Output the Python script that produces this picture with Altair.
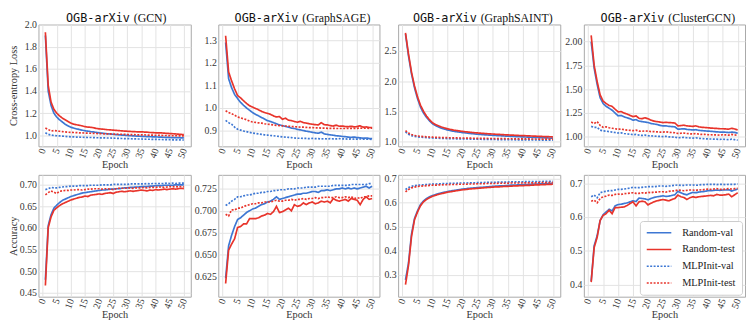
import altair as alt
import pandas as pd

epochs = list(range(1, 51))
series_names = ["Random-val", "Random-test", "MLPInit-val", "MLPInit-test"]
series_colors = ["#3d77d3", "#e8342b", "#3d77d3", "#e8342b"]
series_dashes = [[1, 0], [1, 0], [2, 1.5], [2, 1.5]]
models = ["GCN", "GraphSAGE", "GraphSAINT", "ClusterGCN"]
x_ticks = [0, 5, 10, 15, 20, 25, 30, 35, 40, 45, 50]

# ---------------- Cross-entropy loss ----------------
gcn_loss_rv = [1.90,1.40,1.27,1.20,1.165,1.14,1.12,1.10,1.085,1.072,
    1.065,1.058,1.052,1.046,1.041,1.037,1.033,1.030,1.026,1.022,
    1.019,1.016,1.013,1.011,1.009,1.006,1.004,1.002,1.000,0.998,
    0.996,0.995,0.993,0.992,0.990,0.989,0.988,0.987,0.986,0.985,
    0.984,0.983,0.982,0.981,0.980,0.979,0.978,0.978,0.977,0.976]
gcn_loss_rt = [1.93,1.45,1.30,1.235,1.20,1.175,1.155,1.14,1.125,1.11,
    1.10,1.095,1.09,1.085,1.078,1.074,1.072,1.068,1.062,1.058,
    1.056,1.053,1.050,1.049,1.046,1.044,1.042,1.040,1.038,1.036,
    1.035,1.033,1.032,1.030,1.031,1.029,1.028,1.025,1.024,1.022,
    1.021,1.022,1.019,1.017,1.016,1.014,1.012,1.010,1.008,1.006]
gcn_loss_mv = [1.022,1.008,1.002,0.998,0.996,0.994,0.992,0.990,0.988,0.986,
    0.985,0.984,0.983,0.982,0.981,0.980,0.980,0.979,0.978,0.977,
    0.977,0.976,0.975,0.975,0.974,0.973,0.972,0.971,0.970,0.969,
    0.969,0.968,0.967,0.966,0.966,0.965,0.964,0.964,0.963,0.963,
    0.962,0.962,0.961,0.960,0.960,0.959,0.959,0.958,0.958,0.957]
gcn_loss_mt = [1.065,1.052,1.038,1.042,1.040,1.036,1.033,1.030,1.028,1.026,
    1.025,1.024,1.022,1.021,1.020,1.019,1.018,1.017,1.016,1.015,
    1.014,1.013,1.013,1.012,1.011,1.010,1.009,1.009,1.008,1.007,
    1.006,1.006,1.005,1.004,1.004,1.003,1.002,1.002,1.001,1.000,
    1.000,0.999,0.998,0.998,0.997,0.996,0.996,0.995,0.995,0.994]

sage_loss_rv = [1.29,1.13,1.09,1.06,1.042,1.025,1.012,1.000,0.990,0.980,
    0.972,0.965,0.958,0.951,0.944,0.940,0.935,0.930,0.925,0.922,
    0.918,0.915,0.911,0.909,0.905,0.903,0.900,0.897,0.895,0.892,
    0.890,0.888,0.893,0.885,0.883,0.881,0.879,0.877,0.876,0.874,
    0.873,0.871,0.870,0.871,0.869,0.868,0.866,0.867,0.865,0.864]
sage_loss_rt = [1.32,1.16,1.12,1.085,1.055,1.045,1.032,1.02,1.01,1.004,
    0.998,0.992,0.985,0.980,0.976,0.972,0.965,0.960,0.962,0.950,
    0.955,0.946,0.944,0.940,0.937,0.941,0.935,0.933,0.930,0.928,
    0.926,0.925,0.935,0.926,0.925,0.922,0.920,0.924,0.919,0.920,
    0.918,0.917,0.919,0.916,0.918,0.921,0.915,0.916,0.914,0.913]
sage_loss_mv = [0.945,0.935,0.928,0.915,0.906,0.902,0.898,0.895,0.892,0.889,
    0.887,0.885,0.883,0.881,0.880,0.878,0.877,0.875,0.874,0.872,
    0.871,0.870,0.869,0.867,0.866,0.866,0.865,0.865,0.864,0.865,
    0.864,0.864,0.863,0.864,0.863,0.864,0.863,0.863,0.864,0.863,
    0.863,0.862,0.863,0.862,0.862,0.863,0.862,0.862,0.862,0.861]
sage_loss_mt = [0.988,0.980,0.975,0.968,0.960,0.956,0.952,0.948,0.942,0.938,
    0.936,0.934,0.933,0.930,0.928,0.927,0.925,0.923,0.922,0.921,
    0.920,0.919,0.918,0.917,0.916,0.915,0.915,0.914,0.913,0.913,
    0.912,0.912,0.911,0.911,0.910,0.910,0.910,0.909,0.909,0.909,
    0.909,0.910,0.910,0.909,0.910,0.911,0.910,0.911,0.910,0.911]

saint_loss_rv = [2.78,2.42,2.12,1.89,1.71,1.57,1.47,1.40,1.34,1.295,
    1.265,1.24,1.22,1.205,1.19,1.18,1.17,1.162,1.155,1.148,
    1.142,1.136,1.131,1.126,1.121,1.117,1.113,1.109,1.106,1.103,
    1.100,1.097,1.094,1.091,1.089,1.086,1.084,1.081,1.079,1.077,
    1.075,1.072,1.070,1.068,1.066,1.064,1.062,1.060,1.058,1.056]
saint_loss_rt = [2.80,2.45,2.15,1.92,1.74,1.60,1.50,1.42,1.36,1.31,
    1.28,1.26,1.24,1.225,1.21,1.20,1.19,1.182,1.175,1.168,
    1.162,1.156,1.151,1.146,1.142,1.138,1.134,1.130,1.127,1.124,
    1.121,1.118,1.115,1.112,1.110,1.107,1.105,1.102,1.100,1.098,
    1.096,1.093,1.091,1.089,1.087,1.085,1.083,1.081,1.079,1.077]
saint_loss_mv = [1.16,1.12,1.098,1.085,1.078,1.072,1.068,1.064,1.061,1.058,
    1.056,1.054,1.052,1.050,1.049,1.047,1.046,1.045,1.044,1.043,
    1.042,1.041,1.040,1.039,1.038,1.037,1.036,1.035,1.035,1.034,
    1.033,1.032,1.032,1.031,1.030,1.030,1.029,1.028,1.028,1.027,
    1.027,1.026,1.026,1.025,1.025,1.024,1.024,1.023,1.023,1.022]
saint_loss_mt = [1.18,1.14,1.115,1.100,1.092,1.086,1.082,1.078,1.075,1.072,
    1.070,1.068,1.066,1.065,1.063,1.062,1.061,1.060,1.059,1.058,
    1.057,1.056,1.055,1.054,1.053,1.053,1.052,1.051,1.050,1.050,
    1.049,1.048,1.048,1.047,1.046,1.046,1.045,1.045,1.044,1.044,
    1.043,1.043,1.042,1.042,1.041,1.041,1.040,1.040,1.039,1.039]

cluster_loss_rv = [2.00,1.72,1.55,1.41,1.35,1.32,1.30,1.28,1.25,1.22,
    1.225,1.21,1.20,1.19,1.175,1.18,1.165,1.16,1.155,1.15,
    1.14,1.135,1.13,1.12,1.115,1.115,1.11,1.108,1.105,1.08,
    1.082,1.085,1.078,1.075,1.072,1.075,1.068,1.065,1.062,1.06,
    1.058,1.055,1.052,1.05,1.05,1.048,1.045,1.05,1.046,1.038]
cluster_loss_rt = [2.066,1.75,1.58,1.44,1.375,1.35,1.33,1.32,1.29,1.262,
    1.265,1.25,1.24,1.225,1.212,1.22,1.195,1.19,1.20,1.19,
    1.175,1.165,1.16,1.155,1.15,1.152,1.15,1.148,1.145,1.115,
    1.118,1.122,1.115,1.112,1.11,1.115,1.105,1.10,1.098,1.095,
    1.092,1.09,1.088,1.085,1.085,1.083,1.08,1.09,1.082,1.072]
cluster_loss_mv = [1.11,1.10,1.10,1.07,1.062,1.06,1.055,1.05,1.045,1.04,
    1.042,1.035,1.03,1.028,1.022,1.025,1.018,1.015,1.018,1.012,
    1.01,1.008,1.006,1.004,1.003,1.005,1.0,0.998,0.996,0.99,
    0.992,0.994,0.99,0.988,0.986,0.99,0.984,0.982,0.98,0.978,
    0.977,0.976,0.975,0.973,0.975,0.973,0.97,0.975,0.97,0.965]
cluster_loss_mt = [1.155,1.14,1.16,1.12,1.10,1.105,1.095,1.09,1.085,1.08,
    1.082,1.075,1.07,1.068,1.065,1.07,1.06,1.058,1.062,1.06,
    1.055,1.055,1.052,1.05,1.05,1.052,1.048,1.045,1.043,1.035,
    1.038,1.04,1.035,1.032,1.03,1.035,1.028,1.025,1.025,1.022,
    1.022,1.02,1.02,1.018,1.022,1.02,1.018,1.025,1.02,1.015]

# ---------------- Accuracy ----------------
gcn_acc_rv = [0.480,0.605,0.630,0.645,0.652,0.658,0.663,0.666,0.669,0.672,
    0.674,0.676,0.678,0.680,0.681,0.682,0.683,0.684,0.685,0.686,
    0.687,0.687,0.688,0.689,0.689,0.690,0.690,0.691,0.692,0.692,
    0.693,0.693,0.694,0.694,0.695,0.695,0.695,0.696,0.696,0.697,
    0.697,0.697,0.698,0.698,0.698,0.698,0.699,0.699,0.699,0.699]
gcn_acc_rt = [0.467,0.600,0.625,0.640,0.646,0.651,0.655,0.658,0.661,0.664,
    0.666,0.668,0.670,0.671,0.673,0.672,0.675,0.676,0.677,0.678,
    0.677,0.679,0.680,0.681,0.679,0.682,0.683,0.684,0.683,0.684,
    0.685,0.684,0.685,0.686,0.687,0.686,0.685,0.687,0.686,0.688,
    0.687,0.688,0.689,0.688,0.689,0.690,0.689,0.690,0.691,0.690]
gcn_acc_mv = [0.688,0.690,0.693,0.692,0.692,0.693,0.694,0.695,0.695,0.696,
    0.696,0.696,0.697,0.697,0.697,0.697,0.698,0.698,0.698,0.698,
    0.699,0.699,0.699,0.699,0.700,0.700,0.700,0.700,0.700,0.700,
    0.701,0.701,0.701,0.701,0.701,0.701,0.702,0.701,0.702,0.702,
    0.702,0.702,0.702,0.703,0.702,0.703,0.702,0.703,0.703,0.703]
gcn_acc_mt = [0.676,0.681,0.685,0.682,0.679,0.684,0.685,0.686,0.686,0.687,
    0.687,0.688,0.688,0.687,0.688,0.689,0.689,0.690,0.690,0.690,
    0.689,0.690,0.690,0.689,0.688,0.690,0.691,0.691,0.691,0.691,
    0.692,0.691,0.692,0.692,0.692,0.693,0.692,0.693,0.693,0.693,
    0.694,0.694,0.693,0.694,0.695,0.694,0.695,0.694,0.695,0.694]

sage_acc_rv = [0.623,0.660,0.672,0.682,0.690,0.692,0.695,0.698,0.700,0.702,
    0.703,0.705,0.707,0.708,0.710,0.711,0.713,0.716,0.713,0.714,
    0.715,0.716,0.717,0.718,0.719,0.719,0.720,0.720,0.721,0.722,
    0.722,0.721,0.723,0.723,0.724,0.723,0.724,0.725,0.725,0.726,
    0.725,0.726,0.725,0.726,0.725,0.726,0.727,0.728,0.726,0.728]
sage_acc_rt = [0.617,0.655,0.662,0.668,0.681,0.682,0.685,0.685,0.691,0.691,
    0.691,0.692,0.694,0.695,0.697,0.696,0.699,0.705,0.698,0.699,
    0.701,0.703,0.700,0.707,0.705,0.706,0.709,0.707,0.709,0.710,
    0.708,0.709,0.711,0.710,0.711,0.709,0.714,0.712,0.711,0.712,
    0.713,0.711,0.714,0.713,0.712,0.707,0.713,0.716,0.713,0.714]
sage_acc_mv = [0.706,0.708,0.711,0.713,0.716,0.716,0.717,0.718,0.718,0.719,
    0.720,0.720,0.721,0.721,0.722,0.722,0.723,0.723,0.724,0.724,
    0.724,0.725,0.725,0.725,0.726,0.726,0.726,0.727,0.727,0.727,
    0.727,0.728,0.728,0.728,0.728,0.728,0.729,0.729,0.729,0.729,
    0.729,0.729,0.730,0.730,0.730,0.730,0.730,0.730,0.731,0.731]
sage_acc_mt = [0.696,0.694,0.701,0.701,0.703,0.703,0.705,0.706,0.707,0.708,
    0.708,0.709,0.709,0.710,0.710,0.710,0.711,0.712,0.711,0.711,
    0.712,0.712,0.713,0.712,0.713,0.713,0.714,0.713,0.714,0.714,
    0.715,0.714,0.715,0.715,0.716,0.715,0.715,0.716,0.715,0.715,
    0.716,0.715,0.716,0.714,0.715,0.714,0.716,0.716,0.717,0.717]

saint_acc_rv = [0.280,0.350,0.470,0.535,0.567,0.593,0.608,0.618,0.625,0.630,
    0.634,0.638,0.641,0.644,0.647,0.649,0.651,0.653,0.655,0.657,
    0.658,0.660,0.661,0.662,0.663,0.664,0.665,0.666,0.667,0.668,
    0.669,0.670,0.670,0.671,0.672,0.673,0.673,0.674,0.675,0.675,
    0.676,0.676,0.677,0.678,0.678,0.679,0.679,0.680,0.680,0.681]
saint_acc_rt = [0.260,0.340,0.460,0.530,0.562,0.588,0.604,0.614,0.621,0.627,
    0.631,0.635,0.638,0.641,0.644,0.646,0.648,0.650,0.652,0.654,
    0.655,0.657,0.658,0.659,0.660,0.661,0.662,0.663,0.664,0.665,
    0.666,0.666,0.667,0.668,0.668,0.669,0.670,0.670,0.671,0.671,
    0.672,0.672,0.673,0.674,0.674,0.675,0.675,0.676,0.676,0.677]
saint_acc_mv = [0.655,0.663,0.668,0.671,0.673,0.674,0.675,0.676,0.677,0.678,
    0.678,0.679,0.679,0.680,0.680,0.681,0.681,0.681,0.682,0.682,
    0.682,0.683,0.683,0.683,0.684,0.684,0.684,0.685,0.685,0.685,
    0.685,0.686,0.686,0.686,0.686,0.687,0.687,0.687,0.687,0.687,
    0.688,0.688,0.688,0.688,0.688,0.688,0.689,0.689,0.689,0.689]
saint_acc_mt = [0.645,0.655,0.662,0.665,0.668,0.669,0.670,0.671,0.672,0.673,
    0.673,0.674,0.674,0.675,0.675,0.676,0.676,0.676,0.677,0.677,
    0.677,0.678,0.678,0.678,0.679,0.679,0.679,0.680,0.680,0.680,
    0.680,0.681,0.681,0.681,0.681,0.682,0.682,0.682,0.682,0.682,
    0.683,0.683,0.683,0.683,0.683,0.684,0.684,0.684,0.684,0.684]

cluster_acc_rv = [0.410,0.515,0.545,0.590,0.607,0.615,0.623,0.618,0.633,0.637,
    0.638,0.640,0.642,0.645,0.648,0.646,0.656,0.655,0.654,0.651,
    0.655,0.658,0.660,0.661,0.663,0.661,0.662,0.664,0.666,0.676,
    0.672,0.668,0.666,0.670,0.673,0.672,0.674,0.675,0.676,0.678,
    0.678,0.679,0.680,0.679,0.680,0.680,0.681,0.677,0.680,0.683]
cluster_acc_rt = [0.407,0.510,0.540,0.590,0.605,0.610,0.620,0.610,0.628,0.628,
    0.629,0.630,0.634,0.640,0.645,0.633,0.645,0.647,0.645,0.636,
    0.641,0.645,0.648,0.650,0.652,0.650,0.648,0.652,0.655,0.665,
    0.660,0.658,0.652,0.657,0.660,0.658,0.660,0.661,0.662,0.663,
    0.664,0.663,0.667,0.665,0.665,0.666,0.668,0.660,0.666,0.672]
cluster_acc_mv = [0.660,0.665,0.657,0.672,0.675,0.676,0.678,0.678,0.680,0.682,
    0.682,0.683,0.684,0.686,0.688,0.687,0.687,0.688,0.689,0.690,
    0.690,0.690,0.691,0.692,0.692,0.691,0.692,0.693,0.694,0.695,
    0.694,0.694,0.695,0.695,0.695,0.694,0.695,0.696,0.696,0.697,
    0.697,0.697,0.696,0.697,0.697,0.696,0.697,0.697,0.697,0.698]
cluster_acc_mt = [0.647,0.650,0.642,0.655,0.660,0.662,0.665,0.664,0.667,0.668,
    0.667,0.669,0.670,0.671,0.672,0.670,0.670,0.672,0.671,0.673,
    0.672,0.674,0.674,0.675,0.675,0.674,0.676,0.677,0.678,0.680,
    0.679,0.678,0.679,0.680,0.680,0.679,0.681,0.680,0.682,0.683,
    0.682,0.683,0.684,0.682,0.682,0.683,0.684,0.683,0.684,0.685]

loss_data = [
    [gcn_loss_rv, gcn_loss_rt, gcn_loss_mv, gcn_loss_mt],
    [sage_loss_rv, sage_loss_rt, sage_loss_mv, sage_loss_mt],
    [saint_loss_rv, saint_loss_rt, saint_loss_mv, saint_loss_mt],
    [cluster_loss_rv, cluster_loss_rt, cluster_loss_mv, cluster_loss_mt],
]
acc_data = [
    [gcn_acc_rv, gcn_acc_rt, gcn_acc_mv, gcn_acc_mt],
    [sage_acc_rv, sage_acc_rt, sage_acc_mv, sage_acc_mt],
    [saint_acc_rv, saint_acc_rt, saint_acc_mv, saint_acc_mt],
    [cluster_acc_rv, cluster_acc_rt, cluster_acc_mv, cluster_acc_mt],
]

loss_domains = [[0.9, 2.0], [0.83, 1.37], [0.92, 2.94], [0.9, 2.18]]
loss_ticks = [[1.0, 1.2, 1.4, 1.6, 1.8, 2.0], [0.9, 1.0, 1.1, 1.2, 1.3],
              [1.0, 1.5, 2.0, 2.5], [1.0, 1.25, 1.5, 1.75, 2.0]]
loss_formats = [".1f", ".1f", ".1f", ".2f"]
acc_domains = [[0.441, 0.722], [0.602, 0.741], [0.21, 0.716], [0.364, 0.725]]
acc_ticks = [[0.45, 0.5, 0.55, 0.6, 0.65, 0.7], [0.625, 0.65, 0.675, 0.7, 0.725],
             [0.3, 0.4, 0.5, 0.6, 0.7], [0.4, 0.5, 0.6, 0.7]]
acc_formats = [".2f", ".3f", ".1f", ".1f"]

# layout (pixels)
col_widths = [155, 164, 165, 164]
y_extents = [19, 24, 15, 20]
panel_h = 124
mono_w = 65
serif_w = [30, 62, 66, 61]

SERIF = "Liberation Serif"
MONO = "DejaVu Sans Mono"


def panel(col, values4, domain, ticks, fmt, ytitle, with_title, with_legend):
    df = pd.DataFrame({
        "epoch": epochs * 4,
        "value": [v for s in values4 for v in s],
        "series": [n for n in series_names for _ in epochs],
    })
    leg = None
    if with_legend:
        leg = alt.Legend(title=None, orient="none", legendX=57, legendY=47,
                         symbolType="stroke", symbolSize=625, symbolStrokeWidth=1.6,
                         labelFont=SERIF, labelFontSize=10.5, labelColor="#222",
                         labelAlign="left", clipHeight=12,
                         padding=6, rowPadding=5, labelOffset=10,
                         fillColor="white", strokeColor="#cccccc", cornerRadius=3)
    yaxis_kwargs = dict(values=ticks, format=fmt, minExtent=y_extents[col],
                        maxExtent=y_extents[col], labelPadding=2)
    if ytitle:
        yaxis_kwargs.update(title=ytitle, titlePadding=1)
    else:
        yaxis_kwargs.update(title=None)
    lines = alt.Chart(df).mark_line(strokeWidth=1.7, clip=True).encode(
        x=alt.X("epoch:Q",
                scale=alt.Scale(domain=[-1.45, 52.45], nice=False, zero=False),
                axis=alt.Axis(values=x_ticks, title="Epoch", labelAngle=-70,
                              labelPadding=2, titlePadding=0, format="d")),
        y=alt.Y("value:Q",
                scale=alt.Scale(domain=domain, nice=False, zero=False),
                axis=alt.Axis(**yaxis_kwargs)),
        color=alt.Color("series:N",
                        scale=alt.Scale(domain=series_names, range=series_colors),
                        legend=leg),
        strokeDash=alt.StrokeDash("series:N",
                                  scale=alt.Scale(domain=series_names, range=series_dashes),
                                  legend=leg),
    )
    layers = [lines]
    if with_title:
        w = col_widths[col]
        split = w / 2 + (mono_w - 4 - serif_w[col]) / 2
        t1 = alt.Chart(pd.DataFrame({"t": ["OGB-arXiv"]})).mark_text(
            align="right", baseline="middle", font=MONO, fontSize=12, color="#111"
        ).encode(x=alt.value(split), y=alt.value(-7), text="t:N")
        t2 = alt.Chart(pd.DataFrame({"t": ["(" + models[col] + ")"]})).mark_text(
            align="left", baseline="middle", font=SERIF, fontSize=12, color="#111"
        ).encode(x=alt.value(split + 4), y=alt.value(-7), text="t:N")
        layers += [t1, t2]
    return alt.layer(*layers).properties(width=col_widths[col], height=panel_h)


top = [panel(i, loss_data[i], loss_domains[i], loss_ticks[i], loss_formats[i],
             "Cross-entropy Loss" if i == 0 else None, True, False) for i in range(4)]
bottom = [panel(i, acc_data[i], acc_domains[i], acc_ticks[i], acc_formats[i],
                "Accuracy" if i == 0 else None, False, i == 3) for i in range(4)]

row1 = alt.hconcat(*top, spacing=2).resolve_scale(color="independent", strokeDash="independent")
row2 = alt.hconcat(*bottom, spacing=2).resolve_scale(color="independent", strokeDash="independent")

chart = alt.vconcat(row1, row2, spacing=2).resolve_scale(
    color="independent", strokeDash="independent"
).properties(
    padding={"left": 0, "top": 0, "right": 0, "bottom": 0}
).configure(background="white").configure_view(
    stroke="#a8a8a8", strokeWidth=1
).configure_axis(
    labelFont=SERIF, labelFontSize=10, labelColor="#333",
    titleFont=SERIF, titleFontSize=10.5, titleFontWeight="normal", titleColor="#333",
    grid=True, gridColor="#e2e2e2", gridWidth=1,
    domain=False, ticks=False,
)

chart.save("out.html", embed_options={"renderer": "svg", "actions": False})
